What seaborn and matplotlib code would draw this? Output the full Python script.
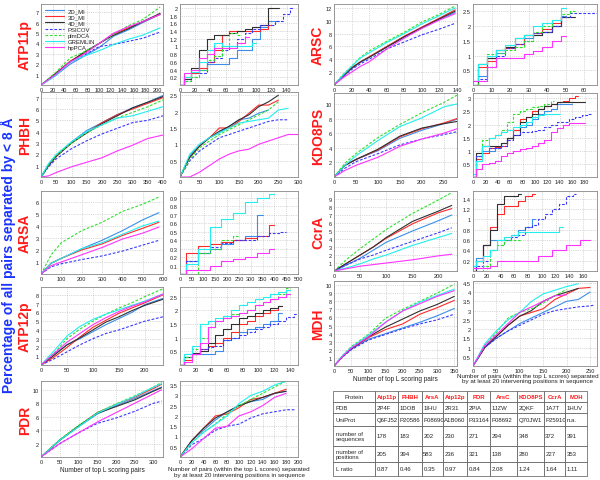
import matplotlib
matplotlib.use("Agg")
import matplotlib.pyplot as plt
import seaborn as sns
import pandas as pd
import numpy as np
from matplotlib.lines import Line2D
from matplotlib.ticker import FuncFormatter

METHODS = ['2D_MI', '3D_MI', '4D_MI', 'PSICOV', 'plmDCA', 'GREMLIN', 'hpPCA']
COLORS = {'2D_MI': '#3b8fe8', '3D_MI': '#ff2a2a', '4D_MI': '#303030', 'PSICOV': '#3a3aff',
          'plmDCA': '#2fe02f', 'GREMLIN': '#22eeee', 'hpPCA': '#ff33ff'}
DASHES = {'2D_MI': '', '3D_MI': '', '4D_MI': '', 'PSICOV': (2.5, 1.5),
          'plmDCA': (2.5, 1.5), 'GREMLIN': '', 'hpPCA': ''}

# ---- ATP11p ----
atp11p_all_x = [0, 25, 50, 75, 100, 125, 150, 175, 205]
atp11p_all = {
    '2D_MI': [0, 0.9, 2.0, 2.8, 3.6, 4.7, 5.3, 6.0, 6.8],
    '3D_MI': [0, 1.1, 2.3, 3.1, 4.0, 4.9, 5.5, 6.1, 6.8],
    '4D_MI': [0, 1.1, 2.2, 3.2, 4.0, 4.8, 5.4, 6.1, 6.9],
    'PSICOV': [0, 1.0, 2.2, 2.9, 3.7, 3.9, 4.2, 4.5, 5.1],
    'plmDCA': [0, 1.2, 2.6, 3.2, 4.0, 4.9, 5.7, 6.3, 7.5],
    'GREMLIN': [0, 0.9, 2.2, 2.8, 3.3, 3.9, 4.4, 4.8, 5.5],
    'hpPCA': [0, 1.0, 2.2, 3.0, 4.0, 5.0, 5.6, 6.1, 6.8],
}
atp11p_sep_x = [0, 10, 20, 30, 40, 50, 60, 70, 80, 90, 100, 110, 120, 130, 140, 150]
atp11p_sep = {
    '2D_MI': [0, 0.2, 0.3, 0.4, 0.55, 0.55, 0.55, 0.7, 0.9, 0.9, 1.2, 1.5, 1.65, 1.65],
    '3D_MI': [0, 0.2, 0.3, 0.45, 0.6, 0.9, 1.3, 1.4, 1.4, 1.4, 1.4, 1.45, 1.55],
    '4D_MI': [0, 0.15, 0.45, 0.9, 1.2, 1.3, 1.3, 1.35, 1.4, 1.45, 1.5, 1.55, 2.0, 2.0],
    'PSICOV': [0, 0.1, 0.2, 0.3, 0.6, 0.7, 0.9, 1.0, 1.2, 1.35, 1.45, 1.55, 1.55, 1.65, 1.85, 2.0],
    'plmDCA': [0, 0.1, 0.2, 0.4, 0.65, 0.75, 1.0, 1.35, 1.3],
    'GREMLIN': [0, 0.2, 0.35, 0.6, 0.9, 1.1, 1.0, 1.0, 1.0, 1.0, 1.1],
    'hpPCA': [0, 0.3, 0.4, 0.7, 0.8, 0.95, 0.95, 0.95, 1.1, 1.25],
}

# ---- PHBH ----
phbh_all_x = [0, 25, 50, 100, 150, 200, 250, 300, 350, 400]
phbh_all = {
    '2D_MI': [0, 1.1, 1.9, 3.1, 4.1, 4.8, 5.5, 6.1, 6.6, 7.2],
    '3D_MI': [0, 1.1, 1.9, 3.0, 3.9, 4.8, 5.5, 6.0, 6.5, 7.0],
    '4D_MI': [0, 1.0, 1.8, 3.0, 3.9, 4.7, 5.4, 6.1, 6.6, 7.1],
    'PSICOV': [0, 0.9, 1.6, 2.5, 3.2, 3.8, 4.3, 4.8, 5.0, 5.4],
    'plmDCA': [0, 1.1, 1.9, 3.0, 3.9, 4.6, 5.2, 5.7, 6.2, 6.8],
    'GREMLIN': [0, 1.2, 2.0, 3.1, 4.0, 4.6, 5.2, 5.4, 5.8, 6.2],
    'hpPCA': [0, 0.1, 0.4, 0.9, 1.3, 1.7, 2.3, 2.8, 3.4, 3.7],
}
phbh_sep_x = [0, 25, 50, 75, 100, 125, 150, 175, 200, 225, 250, 275, 300]
phbh_sep = {
    '2D_MI': [0, 0.65, 1.0, 1.2, 1.35, 1.55, 1.75, 1.8, 1.95, 2.05],
    '3D_MI': [0, 0.6, 0.95, 1.2, 1.5, 1.5, 1.7, 1.95, 2.2, 2.2, 2.35],
    '4D_MI': [0, 0.6, 0.95, 1.2, 1.4, 1.55, 1.75, 1.9, 2.15, 2.3, 2.5],
    'PSICOV': [0, 0.5, 0.8, 1.0, 1.2, 1.3, 1.4, 1.5, 1.6, 1.7, 1.75, 1.75],
    'plmDCA': [0, 0.55, 0.9, 1.1, 1.3, 1.45, 1.6, 1.75, 1.9, 2.05, 2.3],
    'GREMLIN': [0, 0.7, 1.0, 1.2, 1.35, 1.5, 1.65, 1.7, 1.75, 1.8, 2.05, 2.1],
    'hpPCA': [0, 0.0, 0.15, 0.35, 0.55, 0.7, 0.8, 0.85, 1.0, 1.1, 1.2, 1.3, 1.3],
}

# ---- ARSA ----
arsa_all_x = [0, 50, 100, 200, 300, 400, 500, 580]
arsa_all = {
    '2D_MI': [0, 0.9, 1.3, 2.1, 2.8, 3.6, 4.5, 5.1],
    '3D_MI': [0, 0.9, 1.3, 2.0, 2.5, 3.2, 3.8, 4.3],
    'PSICOV': [0, 0.6, 0.85, 1.2, 1.5, 1.9, 2.4, 2.8],
    'plmDCA': [0, 1.6, 2.6, 3.6, 4.3, 5.2, 5.8, 6.4],
    'GREMLIN': [0, 0.9, 1.3, 2.1, 2.6, 3.3, 4.0, 4.4],
    'hpPCA': [0, 0.7, 1.0, 1.6, 2.2, 2.9, 3.4, 3.9],
}
arsa_sep_x = [0, 50, 100, 150, 200, 250, 300, 350, 400, 450]
arsa_sep = {
    '2D_MI': [0, 0.15, 0.25, 0.3, 0.35, 0.4, 0.45, 0.7],
    '3D_MI': [0, 0.25, 0.33, 0.35, 0.38, 0.4, 0.42, 0.45, 0.58],
    'PSICOV': [0, 0.15, 0.25, 0.32, 0.37, 0.4, 0.4, 0.45, 0.48, 0.5],
    'plmDCA': [0, 0.0, 0.25, 0.3, 0.4, 0.45],
    'GREMLIN': [0, 0.12, 0.3, 0.55, 0.65, 0.72, 0.85, 0.9, 0.95],
    'hpPCA': [0, 0.05, 0.05, 0.1, 0.15, 0.18, 0.2, 0.25, 0.3],
}

# ---- ATP12p ----
atp12p_all_x = [0, 25, 50, 75, 100, 125, 150, 175, 200, 235]
atp12p_all = {
    '2D_MI': [0, 1.2, 2.3, 3.0, 3.8, 4.6, 5.3, 6.0, 6.9, 7.6],
    '3D_MI': [0, 0.9, 2.0, 3.2, 4.3, 5.1, 5.9, 6.5, 7.1, 8.0],
    '4D_MI': [0, 1.1, 2.3, 3.1, 4.0, 4.9, 5.5, 6.2, 6.8, 7.5],
    'PSICOV': [0, 0.7, 1.5, 2.3, 3.0, 3.6, 4.0, 4.5, 5.0, 5.5],
    'plmDCA': [0, 1.3, 3.0, 4.1, 5.0, 5.8, 6.5, 7.1, 7.8, 8.7],
    'GREMLIN': [0, 1.6, 3.3, 4.4, 5.2, 5.8, 6.3, 6.8, 7.3, 8.1],
    'hpPCA': [0, 1.3, 2.6, 3.6, 4.6, 5.4, 6.1, 6.7, 7.2, 8.1],
}
atp12p_sep_x = [0, 10, 20, 30, 40, 50, 60, 70, 80, 90, 100, 110, 120, 130, 140, 150]
atp12p_sep = {
    '2D_MI': [0, 0.4, 0.4, 0.4, 0.4, 0.5, 0.9, 1.0, 1.2, 1.3, 1.4, 1.5, 1.6, 1.9],
    '3D_MI': [0, 0.2, 0.4, 0.6, 0.7, 0.8, 1.0, 1.2, 1.5, 1.6, 1.8, 1.9, 2.0, 2.15],
    '4D_MI': [0, 0.3, 0.45, 0.5, 0.8, 1.1, 1.3, 1.5, 1.7, 1.8, 1.9, 2.0, 2.1, 2.15],
    'PSICOV': [0, 0.3, 0.4, 0.6, 0.65, 0.7, 0.9, 1.0, 1.1, 1.2, 1.3, 1.4, 1.5, 1.6, 1.75, 1.85],
    'plmDCA': [0, 0.3, 0.6, 1.0, 1.4, 1.6, 1.8, 1.85, 1.9, 2.0, 2.2, 2.3, 2.4, 2.6, 2.8],
    'GREMLIN': [0, 0.4, 0.7, 1.5, 1.6, 1.7, 1.8, 2.0, 2.2, 2.3, 2.4, 2.5, 2.6, 2.65, 2.75],
    'hpPCA': [0, 0.1, 0.4, 0.8, 1.4, 1.6, 1.7, 1.8, 1.9, 2.0, 2.2, 2.3, 2.4, 2.5, 2.6],
}

# ---- PDR ----
pdr_all_x = [0, 50, 100, 150, 200, 250, 300, 321]
pdr_all = {
    '2D_MI': [0, 2.5, 4.5, 6.4, 7.6, 8.7, 9.9, 10.4],
    '3D_MI': [0, 2.5, 4.6, 6.6, 7.8, 8.9, 10.2, 10.8],
    '4D_MI': [0, 2.5, 4.6, 6.5, 7.5, 8.5, 9.8, 10.3],
    'PSICOV': [0, 2.0, 3.6, 5.0, 5.8, 6.8, 8.0, 8.3],
    'plmDCA': [0, 2.6, 4.7, 6.6, 7.9, 9.1, 10.4, 11.1],
    'GREMLIN': [0, 2.5, 4.5, 6.5, 7.8, 9.0, 10.4, 10.9],
    'hpPCA': [0, 2.0, 3.6, 5.2, 6.6, 8.0, 9.4, 10.0],
}
pdr_sep_x = [0, 20, 40, 60, 80, 100, 120, 140, 160, 180, 195]
pdr_sep = {
    '2D_MI': [0, 0.8, 1.3, 1.8, 2.2, 2.5, 2.7, 2.8, 3.1, 3.2],
    '3D_MI': [0, 0.8, 1.4, 2.0, 2.1, 2.4, 2.8, 2.9, 3.1, 3.3],
    '4D_MI': [0, 0.8, 1.4, 1.9, 2.2, 2.5, 2.7, 2.9, 3.1, 3.2],
    'PSICOV': [0, 0.6, 0.9, 1.3, 1.5, 1.6, 1.9, 2.1, 2.2, 2.3, 2.3],
    'plmDCA': [0, 0.7, 1.2, 1.6, 2.1, 2.5, 2.8, 3.1, 3.4, 3.7],
    'GREMLIN': [0, 0.7, 1.2, 1.6, 2.0, 2.6, 3.0, 3.2, 3.5, 3.7],
    'hpPCA': [0, 0.4, 0.9, 1.4, 1.5, 2.0, 2.2, 2.5, 2.9, 3.1],
}

# ---- ARSC ----
arsc_all_x = [0, 10, 20, 30, 40, 60, 80, 100, 120, 138]
arsc_all = {
    '2D_MI': [0, 1.4, 2.6, 3.5, 4.3, 5.9, 7.4, 9.0, 10.2, 11.3],
    '3D_MI': [0, 1.4, 2.7, 3.6, 4.4, 6.0, 7.6, 9.0, 10.4, 11.7],
    '4D_MI': [0, 1.3, 2.6, 3.6, 4.3, 5.9, 7.5, 8.9, 10.3, 11.5],
    'PSICOV': [0, 1.2, 2.4, 3.3, 4.0, 5.6, 6.7, 7.8, 8.7, 9.6],
    'plmDCA': [0, 1.6, 2.9, 4.3, 5.3, 6.8, 8.2, 9.8, 11.0, 12.3],
    'GREMLIN': [0, 1.5, 2.9, 4.2, 5.0, 6.6, 8.0, 9.5, 10.8, 12.0],
    'hpPCA': [0, 1.1, 2.0, 2.9, 3.6, 5.6, 7.3, 8.8, 10.1, 11.1],
}
arsc_sep_x = [0, 5, 10, 15, 20, 25, 30, 35, 40, 45, 50, 55, 60, 65, 70]
arsc_sep = {
    '2D_MI': [0, 0.3, 0.9, 1.1, 1.3, 1.4, 1.6, 1.7, 1.8, 2.0, 2.35],
    '3D_MI': [0, 0.6, 0.8, 1.2, 1.25, 1.4, 1.7, 1.75, 1.9, 2.1, 2.3],
    '4D_MI': [0, 0.7, 0.9, 1.2, 1.3, 1.6, 1.7, 1.7, 1.8, 2.0, 2.3, 2.3],
    'PSICOV': [0.15, 0.2, 0.6, 1.0, 1.25, 1.4, 1.5, 1.75, 1.8, 2.0, 2.3, 2.45, 2.45, 2.45, 2.45],
    'plmDCA': [0, 0.7, 1.05, 1.1, 1.2, 1.3, 1.5, 1.8, 2.0, 2.2, 2.4, 2.5],
    'GREMLIN': [0.15, 0.7, 1.0, 1.2, 1.35, 1.6, 1.7, 2.0, 2.1, 2.2, 2.6],
    'hpPCA': [0.15, 0.15, 0.6, 0.9, 0.9, 0.9, 1.05, 1.15, 1.3, 1.5, 1.65],
}

# ---- KDO8PS ----
kdo8ps_all_x = [0, 25, 50, 100, 150, 200, 250, 280]
kdo8ps_all = {
    '2D_MI': [0, 1.6, 2.4, 3.6, 5.3, 6.4, 7.3, 7.9],
    '3D_MI': [0, 1.6, 2.4, 3.7, 5.5, 6.6, 7.4, 8.0],
    '4D_MI': [0, 1.6, 2.4, 3.8, 5.6, 6.7, 7.3, 7.6],
    'PSICOV': [0, 1.2, 2.1, 3.2, 4.4, 5.2, 5.8, 6.2],
    'plmDCA': [0, 1.9, 3.2, 5.4, 7.2, 8.8, 10.2, 11.2],
    'GREMLIN': [0, 1.6, 2.9, 5.0, 6.9, 8.1, 9.6, 10.0],
    'hpPCA': [0, 0.9, 1.6, 2.7, 4.2, 5.2, 6.0, 6.6],
}
kdo8ps_sep_x = [0, 10, 20, 30, 40, 50, 60, 70, 80, 90, 100, 110, 120, 130, 140, 150, 160, 170, 180, 190]
kdo8ps_sep = {
    '2D_MI': [0, 0.8, 1.0, 1.0, 1.1, 1.3, 1.5, 1.8, 1.9, 2.0, 2.2, 2.4, 2.5, 2.6, 2.8, 2.8, 2.8],
    '3D_MI': [0, 0.7, 0.9, 1.1, 1.15, 1.2, 1.5, 1.8, 2.2, 2.3, 2.5, 2.6, 2.7, 2.8, 2.85, 2.9, 3.0, 3.1],
    '4D_MI': [0, 0.9, 1.2, 1.2, 1.2, 1.3, 1.5, 1.6, 2.1, 2.3, 2.4, 2.6, 2.7, 2.8, 2.85, 2.85, 2.85, 2.85, 2.85],
    'PSICOV': [0, 0.8, 1.2, 1.1, 1.1, 1.2, 1.4, 1.6, 1.7, 1.7, 1.75, 1.8, 1.9, 2.0, 2.1, 2.1, 2.2, 2.3, 2.35, 2.4],
    'plmDCA': [0, 0.6, 1.4, 1.5, 1.6, 1.8, 2.1, 2.4, 2.5, 2.6, 2.65, 2.7, 2.8, 2.9],
    'GREMLIN': [0.1, 0.6, 1.2, 1.5, 1.6, 1.7, 1.8, 1.9, 2.0, 2.1, 2.3, 2.35, 2.4, 2.4, 2.4],
    'hpPCA': [0, 0.3, 0.5, 0.55, 0.6, 0.8, 0.9, 1.0, 1.05, 1.1, 1.2, 1.3, 1.4, 1.7, 1.85, 2.0, 2.05, 2.05, 2.05],
}

# ---- CcrA ----
ccra_all_x = [0, 25, 50, 75, 100, 150, 200, 225]
ccra_all = {
    '2D_MI': [0, 0.8, 1.6, 2.6, 3.6, 5.0, 6.3, 7.0],
    '3D_MI': [0, 1.0, 2.0, 3.0, 4.1, 5.9, 7.3, 7.8],
    '4D_MI': [0, 1.0, 2.0, 3.0, 4.2, 6.2, 7.5, 8.2],
    'PSICOV': [0, 0.8, 1.5, 2.0, 2.6, 3.7, 4.8, 5.4],
    'plmDCA': [0, 1.5, 2.8, 4.0, 5.2, 7.2, 8.9, 9.8],
    'GREMLIN': [0, 0.4, 0.9, 1.5, 2.0, 3.2, 4.2, 4.7],
    'hpPCA': [0, 0.3, 0.6, 0.8, 1.0, 1.4, 1.9, 2.1],
}
ccra_sep_x = [0, 10, 20, 30, 40, 50, 60, 70, 80, 90, 100, 110, 120, 130, 140, 150, 160, 170]
ccra_sep = {
    '2D_MI': [0.1, 0.25, 0.5, 0.6, 0.6, 0.6, 0.7, 0.8, 0.85, 1.0],
    '3D_MI': [0, 0.2, 0.5, 0.85, 1.1, 1.25, 1.25, 1.35, 1.45, 1.5],
    '4D_MI': [0, 0.2, 0.5, 0.8, 1.3, 1.45, 1.45, 1.5],
    'PSICOV': [0, 0.1, 0.2, 0.4, 0.5, 0.6, 0.65, 0.7, 0.85, 0.9, 1.0, 1.1, 1.2, 1.3, 1.45, 1.5],
    'plmDCA': [0, 0, 0.1, 0.4, 0.5, 0.6, 0.6, 0.6],
    'GREMLIN': [0.1, 0.2, 0.3, 0.4, 0.6, 0.65, 0.7, 0.75, 0.75, 0.75, 0.75, 0.75, 0.75, 0.85],
    'hpPCA': [0.05, 0.05, 0.05, 0.1, 0.2, 0.2, 0.2, 0.2, 0.2, 0.2, 0.3, 0.3, 0.4, 0.4, 0.5, 0.5, 0.6, 0.6],
}

# ---- MDH ----
mdh_all_x = [0, 25, 50, 100, 150, 200, 250, 300, 350]
mdh_all = {
    '2D_MI': [0, 1.2, 2.1, 3.3, 4.0, 4.7, 5.4, 6.2, 7.1],
    '3D_MI': [0, 1.2, 2.1, 3.5, 4.5, 5.2, 6.4, 7.2, 8.1],
    '4D_MI': [0, 1.2, 2.1, 3.6, 4.8, 5.8, 6.8, 7.6, 8.6],
    'PSICOV': [0, 1.1, 2.0, 3.2, 3.9, 4.6, 5.2, 5.7, 6.4],
    'plmDCA': [0, 1.3, 2.4, 3.9, 5.9, 7.0, 8.0, 9.0, 10.1],
    'GREMLIN': [0, 1.3, 2.3, 3.8, 5.4, 6.8, 7.9, 8.7, 9.5],
    'hpPCA': [0, 1.2, 2.2, 3.6, 5.4, 6.8, 7.7, 8.6, 9.3],
}
mdh_sep_x = [0, 25, 50, 75, 100, 125, 150, 175, 200, 225, 250, 260]
mdh_sep = {
    '2D_MI': [0, 1.0, 1.5, 1.9, 2.3, 2.6, 2.9, 3.2, 3.5, 3.6, 4.0],
    '3D_MI': [0, 1.0, 1.6, 2.2, 2.7, 2.9, 3.1, 3.6, 3.9, 4.2, 4.25],
    '4D_MI': [0, 1.0, 1.6, 2.2, 2.7, 3.0, 3.5, 3.8, 4.0, 4.2],
    'PSICOV': [0, 1.0, 1.5, 1.9, 2.2, 2.5, 2.8, 3.0, 3.1, 3.2, 3.25, 3.3],
    'plmDCA': [0, 1.1, 1.8, 2.6, 2.9, 3.1, 3.4, 3.8, 4.15],
    'GREMLIN': [0, 1.2, 1.9, 2.5, 2.9, 3.5, 3.9, 4.1, 4.3, 4.45],
    'hpPCA': [0, 1.1, 1.7, 2.3, 2.9, 3.2, 3.5, 3.8, 3.85],
}

# ---- table ----
table_proteins = ['Atp11p', 'PHBH', 'ArsA', 'Atp12p', 'PDR', 'ArsC', 'KDO8PS', 'CcrA', 'MDH']
pdb_ids = ['2P4F', '1DOB', '1IHU', '2R31', '2PIA', '1JZW', '2QKF', '1A7T', '1HUV']
uniprot_ids = ['Q6FJ52', 'P20586', 'P08690', 'A1B060', 'P33164', 'P08692', 'Q70JW1', 'P25910', 'n.a.']
n_sequences = [178, 183, 202, 230, 271, 294, 348, 372, 391]
n_positions = [205, 394, 583, 236, 321, 138, 280, 227, 353]
l_ratio = [0.87, 0.46, 0.35, 0.97, 0.84, 2.08, 1.24, 1.64, 1.11]

W, H = 600, 481
sns.set_style('white')
plt.rcParams['font.family'] = ['Liberation Sans', 'DejaVu Sans']
fig = plt.figure(figsize=(W / 100, H / 100), dpi=100)


def px_axes(l, t, r, b):
    return fig.add_axes([l / W, 1 - b / H, (r - l) / W, (b - t) / H])


def fmt(v, pos):
    return f'{v:g}'


def draw(ax, xs, ys, xlim, xticks, ylim, yticks, step=False):
    rows = []
    for m in METHODS:
        for x, y in zip(xs, ys.get(m, [])):
            rows.append((m, x, y))
    df = pd.DataFrame(rows, columns=['method', 'x', 'y'])
    order = [m for m in METHODS if m in ys]
    kw = {'drawstyle': 'steps-mid'} if step else {}
    sns.lineplot(data=df, x='x', y='y', hue='method', style='method', hue_order=order,
                 style_order=order, palette=COLORS, dashes=DASHES, estimator=None,
                 sort=False, linewidth=0.8, legend=False, ax=ax, **kw)
    ax.set_xlim(*xlim)
    ax.set_ylim(*ylim)
    ax.set_xticks(xticks)
    ax.set_yticks(yticks)
    ax.xaxis.set_major_formatter(FuncFormatter(fmt))
    ax.yaxis.set_major_formatter(FuncFormatter(fmt))
    ax.set_xlabel('')
    ax.set_ylabel('')
    ax.grid(True, linestyle=':', linewidth=0.5, color='#b5b5b5')
    ax.tick_params(labelsize=4.1, length=2, direction='in', pad=1.5, colors='#222222')
    for s in ax.spines.values():
        s.set_color('#888888')
        s.set_linewidth(0.6)


LEFT_COLS = [(41, 163), (180, 298)]
RIGHT_COLS = [(334, 457), (473, 597)]

panels = [
    dict(name='ATP11p', cols=LEFT_COLS, tb=(5, 86), lab_x=25,
         a=(atp11p_all_x, atp11p_all, (0, 210), np.arange(0, 201, 20), (0, 7.8), np.arange(1, 8)),
         s=(atp11p_sep_x, atp11p_sep, (0, 155), np.arange(0, 141, 20), (0, 2.1), np.arange(0.2, 2.01, 0.2), True)),
    dict(name='PHBH', cols=LEFT_COLS, tb=(93, 178), lab_x=25,
         a=(phbh_all_x, phbh_all, (0, 400), np.arange(0, 401, 50), (0, 7.5), np.arange(1, 8)),
         s=(phbh_sep_x, phbh_sep, (0, 300), np.arange(0, 301, 50), (0, 2.6), np.arange(0.5, 2.51, 0.5), False)),
    dict(name='ARSA', cols=LEFT_COLS, tb=(192, 275), lab_x=25,
         a=(arsa_all_x, arsa_all, (0, 600), np.arange(0, 601, 100), (0, 6.9), np.arange(1, 7)),
         s=(arsa_sep_x, arsa_sep, (0, 500), np.arange(0, 501, 50), (0, 0.98), np.arange(0.1, 0.91, 0.1), True)),
    dict(name='ATP12p', cols=LEFT_COLS, tb=(288, 366), lab_x=25,
         a=(atp12p_all_x, atp12p_all, (0, 235), np.arange(0, 201, 50), (0, 8.9), np.arange(1, 9)),
         s=(atp12p_sep_x, atp12p_sep, (0, 150), np.arange(0, 141, 20), (0, 2.85), np.arange(0.5, 2.51, 0.5), True)),
    dict(name='PDR', cols=LEFT_COLS, tb=(382, 458), lab_x=25,
         a=(pdr_all_x, pdr_all, (0, 325), np.arange(0, 301, 50), (0, 11.3), np.arange(2, 11, 2)),
         s=(pdr_sep_x, pdr_sep, (0, 200), np.arange(0, 201, 20), (0, 3.7), np.arange(0.5, 3.51, 0.5), False)),
    dict(name='ARSC', cols=RIGHT_COLS, tb=(5, 86), lab_x=318,
         a=(arsc_all_x, arsc_all, (0, 140), np.arange(0, 141, 20), (0, 12.6), np.arange(2, 13, 2)),
         s=(arsc_sep_x, arsc_sep, (0, 67), np.arange(0, 61, 10), (0, 2.75), np.arange(0.5, 2.51, 0.5), True)),
    dict(name='KDO8PS', cols=RIGHT_COLS, tb=(94, 178), lab_x=318,
         a=(kdo8ps_all_x, kdo8ps_all, (0, 280), np.arange(0, 251, 50), (0, 11.5), np.arange(2, 11, 2)),
         s=(kdo8ps_sep_x, kdo8ps_sep, (0, 200), np.arange(0, 181, 20), (0, 3.2), np.arange(0.5, 3.01, 0.5), True)),
    dict(name='CcrA', cols=RIGHT_COLS, tb=(192, 272), lab_x=318,
         a=(ccra_all_x, ccra_all, (0, 235), np.arange(0, 201, 50), (0, 10), np.arange(1, 10)),
         s=(ccra_sep_x, ccra_sep, (0, 180), np.arange(0, 161, 20), (0, 1.55), np.arange(0.2, 1.41, 0.2), True)),
    dict(name='MDH', cols=RIGHT_COLS, tb=(282, 367), lab_x=318,
         a=(mdh_all_x, mdh_all, (0, 358), np.arange(0, 351, 50), (0, 10.5), np.arange(1, 11)),
         s=(mdh_sep_x, mdh_sep, (0, 265), np.arange(0, 251, 50), (0, 4.6), np.arange(0.5, 4.51, 0.5), False)),
]

axes = {}
for p in panels:
    t, b = p['tb']
    ax_a = px_axes(p['cols'][0][0], t, p['cols'][0][1], b)
    draw(ax_a, *p['a'])
    ax_s = px_axes(p['cols'][1][0], t, p['cols'][1][1], b)
    draw(ax_s, *p['s'][:6], step=p['s'][6])
    axes[p['name']] = (ax_a, ax_s)
    fig.text(p['lab_x'] / W, 1 - (t + b) / 2 / H, p['name'], rotation=90, color='#ff1a1a',
             fontsize=10, fontweight='bold', ha='center', va='center')

sep_label = ('Number of pairs (within the top L scores) separated\n'
             'by at least 20 intervening positions in sequence')
for name in ['PDR', 'MDH']:
    ax_a, ax_s = axes[name]
    ax_a.set_xlabel('Number of top L scoring pairs', fontsize=4.7, labelpad=1.5, color='#222222')
    ax_s.set_xlabel(sep_label, fontsize=4.5, labelpad=1.5, color='#222222', linespacing=1.1)
# keep the right-hand label inside the figure
axes['MDH'][1].xaxis.set_label_coords(0.44, -0.08)

# legend in first panel
handles = [Line2D([], [], color=COLORS[m], lw=0.8,
                  linestyle=(0, DASHES[m]) if DASHES[m] else '-') for m in METHODS]
axes['ATP11p'][0].legend(handles, METHODS, loc='upper left', fontsize=4.3, frameon=False,
                         handlelength=3.2, labelspacing=0.15, borderaxespad=0.3,
                         handletextpad=0.6)

fig.text(8 / W, 1 - 255 / H, 'Percentage of all pairs separated by < 8 Å', rotation=90,
         color='#1a33ff', fontsize=10, fontweight='bold', ha='center', va='center')

# table
tab_ax = px_axes(333, 392, 587, 477)
tab_ax.axis('off')
body = [['PDB'] + pdb_ids,
        ['UniProt'] + uniprot_ids,
        ['number of\nsequences'] + [str(v) for v in n_sequences],
        ['number of\npositions'] + [str(v) for v in n_positions],
        ['L ratio'] + [f'{v:.2f}' for v in l_ratio]]
col_w = [42, 23, 24, 21, 24, 23, 27, 27, 21, 22]
row_h = [11, 11, 13, 20, 16, 14]
tbl = tab_ax.table(cellText=body, colLabels=['Protein'] + table_proteins,
                   colWidths=[w / sum(col_w) for w in col_w], cellLoc='left',
                   bbox=[0, 0, 1, 1])
tbl.auto_set_font_size(False)
tbl.set_fontsize(4.3)
for (r, c), cell in tbl.get_celld().items():
    cell.set_linewidth(0.5)
    cell.set_edgecolor('#555555')
    cell.set_height(row_h[r] / sum(row_h))
    cell.PAD = 0.06
    cell.get_text().set_linespacing(1.0)
    if r == 0 and c > 0:
        cell.get_text().set_color('#ff1a1a')
        cell.get_text().set_fontweight('bold')

fig.savefig('out.png', dpi=100)
